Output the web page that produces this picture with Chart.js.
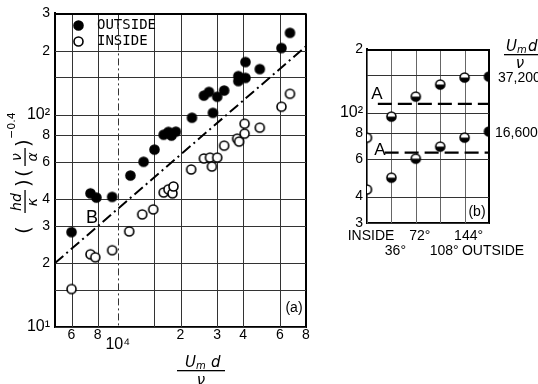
<!DOCTYPE html>
<html><head><meta charset="utf-8">
<script src="https://cdn.jsdelivr.net/npm/chart.js@4.4.0/dist/chart.umd.min.js"></script>
<style>
html,body{margin:0;padding:0;background:#fff;}
#wrap{position:relative;width:538px;height:384px;overflow:hidden;background:#fff;}
#ca{position:absolute;left:0;top:0;}
#cb{position:absolute;left:320px;top:0;}
</style></head><body>
<div id="wrap"><canvas id="ca" width="320" height="384"></canvas><canvas id="cb" width="218" height="384"></canvas></div>
<script>
// ---------- Panel (a) data ----------
const outsideRe = [6000, 7400, 7900, 9400, 11500, 13300, 15000, 16600, 17500, 18100, 19000, 22700, 25900, 27400, 30000, 32400, 28600, 37900, 37900, 41000, 41000, 48000, 61000, 67000];
const outsideNu = [28, 42.6, 40.7, 41, 51.7, 60, 68.5, 80.5, 83, 79.7, 83.2, 96.8, 123, 128, 121.5, 130, 102, 152, 144, 149, 177, 164, 206, 243];
const insideRe = [6000, 7400, 7800, 9400, 11350, 13100, 14800, 16600, 17500, 18300, 18500, 22500, 25900, 27700, 30000, 28300, 32400, 37400, 38200, 40600, 40600, 48000, 61000, 67000];
const insideNu = [15.1, 22, 21.3, 23, 28.2, 33.9, 35.8, 43, 44.5, 42.6, 45.9, 55.2, 62.2, 62.8, 62.8, 57, 71.5, 77.1, 74.7, 81.4, 90.7, 86.9, 109, 125.5];
const lineBRe = [5000, 80000];
const lineBNu = [20, 210];
const xTicksA = [6000, 8000, 10000, 15000, 20000, 30000, 40000, 60000, 80000];
const xTickLabelsA = ['6', '8', ['', '10⁴'], '', '2', '3', '4', '6', '8'];
const yTicksA = [10, 15, 20, 30, 40, 60, 80, 100, 150, 200, 300];
const yTickLabelsA = ['10¹', '', '2', '3', '4', '6', '8', '10²', '', '2', '3'];

// ---------- Panel (b) data ----------
const angles = [0, 36, 72, 108, 144, 180];
const angleLabels = ['INSIDE', ['', '36°'], '72°', ['', '108°'], '144°', ['', 'OUTSIDE']];
const nuRe37200 = [76, 95.7, 119, 135.8, 146.5, 148];
const nuRe16600 = [43.2, 49.2, 60.5, 69, 76.1, 81.3];
const levelA = [110, 64.6];
const lineAStart = [16, 26];
const yTicksB = [30, 40, 60, 80, 100, 150, 200];
const yTickLabelsB = ['3', '4', '6', '8', '10²', '', '2'];

const NUMFONT = 'Liberation Sans';

function marker(kind) {
  const c = document.createElement('canvas'); c.width = 13; c.height = 13;
  const g = c.getContext('2d');
  g.beginPath(); g.arc(6.5, 6.5, 4.5, 0, 2 * Math.PI);
  g.fillStyle = kind === 'filled' ? '#000' : '#fff'; g.fill();
  if (kind === 'half') { g.beginPath(); g.arc(6.5, 6.5, 4.5, 0, Math.PI); g.closePath(); g.fillStyle = '#000'; g.fill(); }
  g.beginPath(); g.arc(6.5, 6.5, 4.5, 0, 2 * Math.PI); g.lineWidth = 1.6; g.strokeStyle = '#000'; g.stroke();
  return c;
}
const mOpen = marker('open'), mFilled = marker('filled'), mHalf = marker('half');

function tickFont(ctx) {
  const l = ctx.tick && ctx.tick.label;
  const s = Array.isArray(l) ? l.join('') : String(l || '');
  const big = s.startsWith('10');
  return { family: NUMFONT, size: big ? 16 : 14, lineHeight: Array.isArray(l) ? 0.75 : 1.2 };
}
function setTicks(list) { return s => { s.ticks = list.map(v => ({ value: v })); }; }
function labelFrom(list, labels) { return (v) => { const i = list.indexOf(v); return i >= 0 ? labels[i] : ''; }; }

// grid lines placed through the library's scales
const gridLines = {
  id: 'gridLines',
  beforeDatasetsDraw(chart, args, opts) {
    const { ctx, chartArea: a, scales } = chart;
    const xs = scales.x, ys = scales.y;
    ctx.save();
    ctx.globalAlpha = 1;
    ctx.globalCompositeOperation = 'source-over';
    Array.from(opts.x).forEach(v => {
      const p = Math.round(xs.getPixelForValue(v));
      const edge = v === xs.max;
      if (opts.dashX && Array.from(opts.dashX).includes(v)) {
        ctx.fillStyle = opts.xColor;
        for (let y = a.top; y < a.bottom; y += 15) {
          ctx.fillRect(p, y, 1, Math.min(7, a.bottom - y));
          if (y + 10 < a.bottom) ctx.fillRect(p, y + 10, 1, 2);
        }
      } else {
        ctx.fillStyle = edge ? '#000' : opts.xColor;
        ctx.fillRect(edge ? p - 1 : p, a.top, edge ? 2 : 1, a.bottom - a.top);
      }
    });
    Array.from(opts.y).forEach(v => {
      const p = Math.round(ys.getPixelForValue(v));
      const edge = v === ys.max;
      ctx.fillStyle = edge ? '#000' : opts.yColor;
      ctx.fillRect(a.left, edge ? p : p, a.right - a.left, edge ? 2 : 1);
    });
    ctx.restore();
  }
};

const decorA = {
  id: 'decorA',
  afterDraw(chart) {
    const ctx = chart.ctx; ctx.save(); ctx.fillStyle = '#000';
    // legend
    ctx.drawImage(mFilled, 72, 19); ctx.drawImage(mOpen, 72, 35);
    ctx.font = '14px "DejaVu Sans Mono"'; ctx.textAlign = 'left'; ctx.textBaseline = 'middle';
    ctx.fillText('OUTSIDE', 97, 25); ctx.fillText('INSIDE', 97, 41);
    // B label
    ctx.font = '18px ' + NUMFONT; ctx.textAlign = 'center'; ctx.fillText('B', 92, 218);
    // (a)
    ctx.font = '14px ' + NUMFONT; ctx.fillText('(a)', 294, 308);
    // x title
    ctx.font = 'italic 15px "DejaVu Sans"'; ctx.textAlign = 'left'; ctx.textBaseline = 'alphabetic';
    ctx.fillText('U', 185, 367);
    ctx.font = 'italic 10px "DejaVu Sans"'; ctx.fillText('m', 196, 369);
    ctx.font = 'italic 15px "DejaVu Sans"'; ctx.fillText('d', 211, 367);
    ctx.fillRect(177, 370, 48, 1.3);
    ctx.textAlign = 'center'; ctx.fillText('ν', 201, 385);
    // y title (rotated)
    ctx.translate(25, 240); ctx.rotate(-Math.PI / 2);
    ctx.textBaseline = 'middle'; ctx.textAlign = 'center';
    ctx.font = '20px "DejaVu Sans"';
    ctx.fillText('(', 10, 0); ctx.fillText(')', 57, 0); ctx.fillText('(', 67, 0); ctx.fillText(')', 97, 0);
    ctx.font = 'italic 14px "DejaVu Sans"';
    ctx.fillText('hd', 38, -8); ctx.fillText('κ', 38, 8);
    ctx.fillRect(27, -0.6, 23, 1.3);
    ctx.fillText('ν', 83, -8); ctx.fillText('α', 83, 8);
    ctx.fillRect(74, -0.6, 18, 1.3);
    ctx.font = '11px "DejaVu Sans"'; ctx.textAlign = 'left';
    ctx.fillText('−0.4', 101, -13);
    ctx.restore();
  }
};

new Chart(document.getElementById('ca'), {
  type: 'scatter',
  data: {
    datasets: [
      { label: 'OUTSIDE', data: outsideRe.map((x, i) => ({ x, y: outsideNu[i] })), pointStyle: mFilled, pointRadius: 4.5 },
      { label: 'INSIDE', data: insideRe.map((x, i) => ({ x, y: insideNu[i] })), pointStyle: mOpen, pointRadius: 4.5 },
      { type: 'line', label: 'B', data: lineBRe.map((x, i) => ({ x, y: lineBNu[i] })), borderColor: '#000', borderWidth: 2, borderDash: [11, 4, 2, 4], pointRadius: 0, fill: false }
    ]
  },
  options: {
    responsive: false, animation: false, devicePixelRatio: 1,
    layout: { padding: { left: 0, top: 13, right: 14, bottom: 0 } },
    plugins: { legend: { display: false }, tooltip: { enabled: false },
      gridLines: { x: xTicksA, y: yTicksA, xColor: '#333333', yColor: '#333333', dashX: [10000] } },
    scales: {
      x: {
        type: 'logarithmic', min: 5000, max: 80000,
        afterBuildTicks: setTicks(xTicksA), afterFit: s => { s.height = 57; },
        grid: { display: false, drawTicks: false, drawOnChartArea: false }, border: { display: true, color: '#000', width: 2 },
        ticks: { callback: labelFrom(xTicksA, xTickLabelsA), autoSkip: false, maxRotation: 0, padding: 0, color: '#000', font: tickFont }
      },
      y: {
        type: 'logarithmic', min: 10, max: 300,
        afterBuildTicks: setTicks(yTicksA), afterFit: s => { s.width = 55; },
        grid: { display: false, drawTicks: false, drawOnChartArea: false }, border: { display: true, color: '#000', width: 2 },
        ticks: { callback: labelFrom(yTicksA, yTickLabelsA), autoSkip: false, padding: 5, color: '#000', font: tickFont }
      }
    }
  },
  plugins: [gridLines, decorA]
});

const decorB = {
  id: 'decorB',
  afterDraw(chart) {
    const ctx = chart.ctx; ctx.save(); ctx.fillStyle = '#000';
    ctx.font = '17px ' + NUMFONT; ctx.textAlign = 'center'; ctx.textBaseline = 'middle';
    ctx.fillText('A', 57, 94); ctx.fillText('A', 60, 150);
    ctx.font = '14px ' + NUMFONT; ctx.fillText('(b)', 157, 212);
    ctx.textAlign = 'left'; ctx.font = '14px ' + NUMFONT;
    ctx.fillText('37,200', 178, 78); ctx.fillText('16,600', 175, 133);
    // title Umd/ν
    ctx.textBaseline = 'alphabetic';
    ctx.font = 'italic 15px "DejaVu Sans"'; ctx.fillText('U', 186, 51);
    ctx.font = 'italic 10px "DejaVu Sans"'; ctx.fillText('m', 197, 53);
    ctx.font = 'italic 15px "DejaVu Sans"'; ctx.fillText('d', 208, 51);
    ctx.fillRect(184, 54, 34, 1.3);
    ctx.textAlign = 'center'; ctx.fillText('ν', 200, 68);
    ctx.restore();
  }
};

const stylesB = [mOpen, mHalf, mHalf, mHalf, mHalf, mFilled];

new Chart(document.getElementById('cb'), {
  type: 'scatter',
  data: {
    datasets: [
      { label: '37,200', data: angles.map((x, i) => ({ x, y: nuRe37200[i] })), pointStyle: stylesB, pointRadius: 4.5 },
      { label: '16,600', data: angles.map((x, i) => ({ x, y: nuRe16600[i] })), pointStyle: stylesB, pointRadius: 4.5 },
      { type: 'line', label: 'A upper', data: [{ x: lineAStart[0], y: levelA[0] }, { x: 180, y: levelA[0] }], borderColor: '#000', borderWidth: 2.2, borderDash: [14, 6], pointRadius: 0 },
      { type: 'line', label: 'A lower', data: [{ x: lineAStart[1], y: levelA[1] }, { x: 180, y: levelA[1] }], borderColor: '#000', borderWidth: 2.2, borderDash: [14, 6], pointRadius: 0 }
    ]
  },
  options: {
    responsive: false, animation: false, devicePixelRatio: 1,
    layout: { padding: { left: 0, top: 49, right: 49, bottom: 0 } },
    plugins: { legend: { display: false }, tooltip: { enabled: false },
      gridLines: { x: angles, y: yTicksB, xColor: '#666666', yColor: '#333333' } },
    scales: {
      x: {
        type: 'linear', min: 0, max: 180,
        afterBuildTicks: setTicks(angles), afterFit: s => { s.height = 161; },
        grid: { display: false, drawTicks: false, drawOnChartArea: false }, border: { display: true, color: '#000', width: 2 },
        ticks: { callback: labelFrom(angles, angleLabels), autoSkip: false, maxRotation: 0, padding: 6, labelOffset: 4, color: '#000', font: { family: NUMFONT, size: 14, lineHeight: 1.05 } }
      },
      y: {
        type: 'logarithmic', min: 30, max: 200,
        afterBuildTicks: setTicks(yTicksB), afterFit: s => { s.width = 47; },
        grid: { display: false, drawTicks: false, drawOnChartArea: false }, border: { display: true, color: '#000', width: 2 },
        ticks: { callback: labelFrom(yTicksB, yTickLabelsB), autoSkip: false, padding: 4, color: '#000', font: tickFont }
      }
    }
  },
  plugins: [gridLines, decorB]
});
</script>
</body></html>
